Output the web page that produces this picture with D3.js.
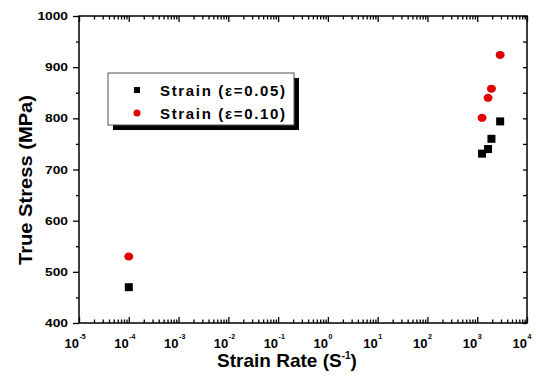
<!DOCTYPE html>
<html>
<head>
<meta charset="utf-8">
<script src="https://cdn.jsdelivr.net/npm/d3@7/dist/d3.min.js"></script>
<style>
  html, body { margin: 0; padding: 0; background: #fff; }
  svg { display: block; font-family: Arial, "Liberation Sans", sans-serif; font-weight: bold; }
</style>
</head>
<body>
<div id="chart"></div>
<script>
// values
const strainRate = [1e-4, 1250, 1650, 1930, 2890];
const stress005 = [470, 731, 740, 760, 794];
const stress010 = [530, 801, 840, 858, 924];
const seriesNames = ['Strain (\u03b5=0.05)', 'Strain (\u03b5=0.10)'];
const xExponents = [-5, -4, -3, -2, -1, 0, 1, 2, 3, 4];
const yTicks = [400, 500, 600, 700, 800, 900, 1000];
const yMinor = [450, 550, 650, 750, 850, 950];

const W = 536, H = 379;
const margin = { top: 16, right: 9, bottom: 56, left: 79 };
const width = W - margin.left - margin.right;
const height = H - margin.top - margin.bottom;

const svg = d3.select('#chart').append('svg')
  .attr('width', W).attr('height', H);

const g = svg.append('g')
  .attr('transform', `translate(${margin.left},${margin.top})`);

const x = d3.scaleLog().domain([1e-5, 1e4]).range([0, width]);
const y = d3.scaleLinear().domain([400, 1000]).range([height, 0]);

// minor ticks on the log axis: 2..9 in every decade
const xMajor = xExponents.map(e => Math.pow(10, e));
const xMinor = [];
xExponents.slice(0, -1).forEach(e => {
  for (let k = 2; k <= 9; k++) xMinor.push(k * Math.pow(10, e));
});

function styleAxis(sel) {
  sel.select('.domain').remove();
  sel.selectAll('line').attr('stroke', '#000').attr('stroke-width', 1.3);
}

// bottom axis (ticks inward)
g.append('g').attr('transform', `translate(0,${height})`)
  .call(d3.axisBottom(x).tickValues(xMajor).tickSize(-6).tickFormat(''))
  .call(styleAxis);
g.append('g').attr('transform', `translate(0,${height})`)
  .call(d3.axisBottom(x).tickValues(xMinor).tickSize(-3.5).tickFormat(''))
  .call(styleAxis);
// top axis (ticks inward)
g.append('g')
  .call(d3.axisTop(x).tickValues(xMajor).tickSize(-6).tickFormat(''))
  .call(styleAxis);
g.append('g')
  .call(d3.axisTop(x).tickValues(xMinor).tickSize(-3.5).tickFormat(''))
  .call(styleAxis);

// left axis (ticks outward), labels are wide and short in the original
g.append('g')
  .call(d3.axisLeft(y).tickValues(yTicks).tickSize(6).tickFormat(''))
  .call(styleAxis);
g.append('g').selectAll('text')
  .data(yTicks).join('text')
  .attr('transform', d => `translate(-11,${y(d) + 4}) scale(1.25,1)`)
  .attr('text-anchor', 'end')
  .attr('font-size', 11)
  .text(d => d);
g.append('g')
  .call(d3.axisLeft(y).tickValues(yMinor).tickSize(3).tickFormat(''))
  .call(styleAxis);
// right axis (ticks inward)
g.append('g').attr('transform', `translate(${width},0)`)
  .call(d3.axisRight(y).tickValues(yTicks.concat(yMinor)).tickSize(-4).tickFormat(''))
  .call(styleAxis);

// frame
g.append('rect')
  .attr('width', width).attr('height', height)
  .attr('fill', 'none').attr('stroke', '#000').attr('stroke-width', 1.5);

// x tick labels 10^n : "10" ends at the tick, exponent just after it
const xl = g.append('g');
xl.selectAll('text.base')
  .data(xExponents).join('text')
  .attr('class', 'base')
  .attr('x', d => x(Math.pow(10, d)))
  .attr('y', height + 25)
  .attr('text-anchor', 'end')
  .attr('font-size', 13)
  .text('10');
xl.selectAll('text.exp')
  .data(xExponents).join('text')
  .attr('class', 'exp')
  .attr('x', d => x(Math.pow(10, d)) + 0.5)
  .attr('y', height + 16)
  .attr('font-size', 7)
  .text(d => d);

// axis titles
svg.append('text')
  .attr('x', 287).attr('y', 367)
  .attr('text-anchor', 'middle').attr('font-size', 19)
  .call(t => {
    t.append('tspan').text('Strain Rate (S');
    t.append('tspan').attr('dy', -8).attr('font-size', 10).text('-1');
    t.append('tspan').attr('dy', 8).text(')');
  });

svg.append('text')
  .attr('transform', 'translate(32,180) rotate(-90)')
  .attr('text-anchor', 'middle').attr('font-size', 19)
  .attr('textLength', 170).attr('lengthAdjust', 'spacingAndGlyphs')
  .text('True Stress (MPa)');

// data points
const pts005 = strainRate.map((r, i) => ({ r, v: stress005[i] }));
const pts010 = strainRate.map((r, i) => ({ r, v: stress010[i] }));
const sq = 8;

g.append('g').selectAll('rect')
  .data(pts005).join('rect')
  .attr('x', d => x(d.r) - sq / 2)
  .attr('y', d => y(d.v) - sq / 2)
  .attr('width', sq).attr('height', sq)
  .attr('fill', '#000');

g.append('g').selectAll('ellipse')
  .data(pts010).join('ellipse')
  .attr('cx', d => x(d.r))
  .attr('cy', d => y(d.v))
  .attr('rx', 4.5).attr('ry', 4)
  .attr('fill', '#e00000');

// legend
const lg = svg.append('g').attr('transform', 'translate(108,73)');
lg.append('rect').attr('x', 5).attr('y', 5).attr('width', 186).attr('height', 52).attr('fill', '#000');
lg.append('rect').attr('width', 186).attr('height', 52)
  .attr('fill', '#fff').attr('stroke', '#555').attr('stroke-width', 1);
lg.append('rect').attr('x', 26).attr('y', 14).attr('width', 6).attr('height', 6).attr('fill', '#000');
lg.append('circle').attr('cx', 29).attr('cy', 40).attr('r', 3.5).attr('fill', '#e00000');
lg.selectAll('text.lt')
  .data(seriesNames).join('text')
  .attr('class', 'lt')
  .attr('x', 52)
  .attr('y', (d, i) => 23 + i * 23)
  .attr('font-size', 15)
  .attr('textLength', 125).attr('lengthAdjust', 'spacing')
  .text(d => d);
</script>
</body>
</html>
